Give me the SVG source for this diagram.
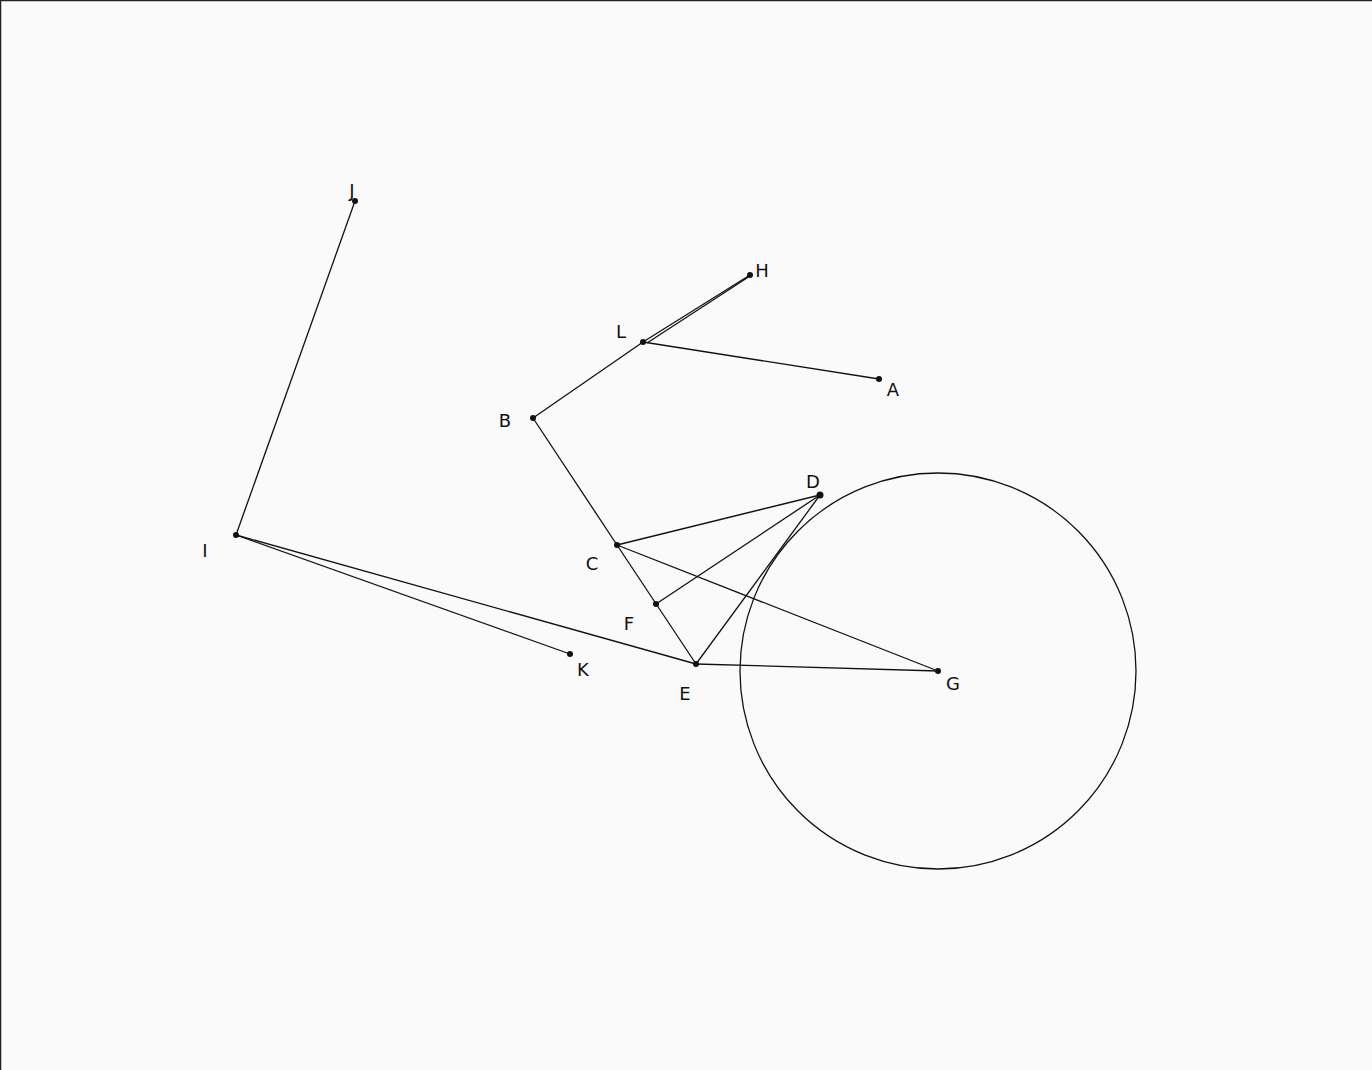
<svg xmlns="http://www.w3.org/2000/svg" width="1372" height="1070" viewBox="0 0 1372 1070">
<style>
.e{stroke:#111;stroke-width:1.3;fill:none}
.p{fill:#111}
.t{font-family:"DejaVu Sans",sans-serif;font-size:18px;fill:#111;text-anchor:middle}
</style>
<rect x="0" y="0" width="1372" height="1070" fill="#fafafa"/>
<line x1="0.5" y1="0" x2="0.5" y2="1070" stroke="#222" stroke-width="1.5"/>
<line x1="0" y1="0.5" x2="1372" y2="0.5" stroke="#222" stroke-width="1.5"/>
<g id="connectors">
<circle class="e" cx="938" cy="671" r="198"/>
<line class="e" x1="355" y1="201" x2="236" y2="535"/>
<line class="e" x1="236" y1="535" x2="570" y2="654"/>
<line class="e" x1="236" y1="535" x2="696" y2="664"/>
<line class="e" x1="643" y1="342" x2="750" y2="275"/>
<line class="e" x1="647" y1="343" x2="750" y2="276"/>
<line class="e" x1="643" y1="342" x2="879" y2="379"/>
<line class="e" x1="533" y1="418" x2="643" y2="342"/>
<line class="e" x1="533" y1="418" x2="617" y2="545"/>
<line class="e" x1="617" y1="545" x2="696" y2="664"/>
<line class="e" x1="617" y1="545" x2="820" y2="495"/>
<line class="e" x1="617" y1="545" x2="938" y2="671"/>
<line class="e" x1="656" y1="604" x2="820" y2="495"/>
<line class="e" x1="696" y1="664" x2="820" y2="495"/>
<line class="e" x1="696" y1="664" x2="938" y2="671"/>
</g>
<g id="J"><circle class="p" cx="355" cy="201" r="3"/><text class="t" x="352" y="197">J</text></g>
<g id="H"><circle class="p" cx="750" cy="275" r="3"/><text class="t" x="762" y="277">H</text></g>
<g id="L"><circle class="p" cx="643" cy="342" r="3"/><text class="t" x="621" y="338">L</text></g>
<g id="A"><circle class="p" cx="879" cy="379" r="3"/><text class="t" x="893" y="396">A</text></g>
<g id="B"><circle class="p" cx="533" cy="418" r="3"/><text class="t" x="505" y="427">B</text></g>
<g id="D"><circle class="p" cx="820" cy="495" r="3.5"/><text class="t" x="813" y="488">D</text></g>
<g id="I"><circle class="p" cx="236" cy="535" r="3"/><text class="t" x="205" y="557">I</text></g>
<g id="C"><circle class="p" cx="617" cy="545" r="3"/><text class="t" x="592" y="570">C</text></g>
<g id="F"><circle class="p" cx="656" cy="604" r="3"/><text class="t" x="629" y="630">F</text></g>
<g id="K"><circle class="p" cx="570" cy="654" r="3"/><text class="t" x="583" y="676">K</text></g>
<g id="E"><circle class="p" cx="696" cy="664" r="3"/><text class="t" x="685" y="700">E</text></g>
<g id="G"><circle class="p" cx="938" cy="671" r="3"/><text class="t" x="953" y="690">G</text></g>
</svg>
